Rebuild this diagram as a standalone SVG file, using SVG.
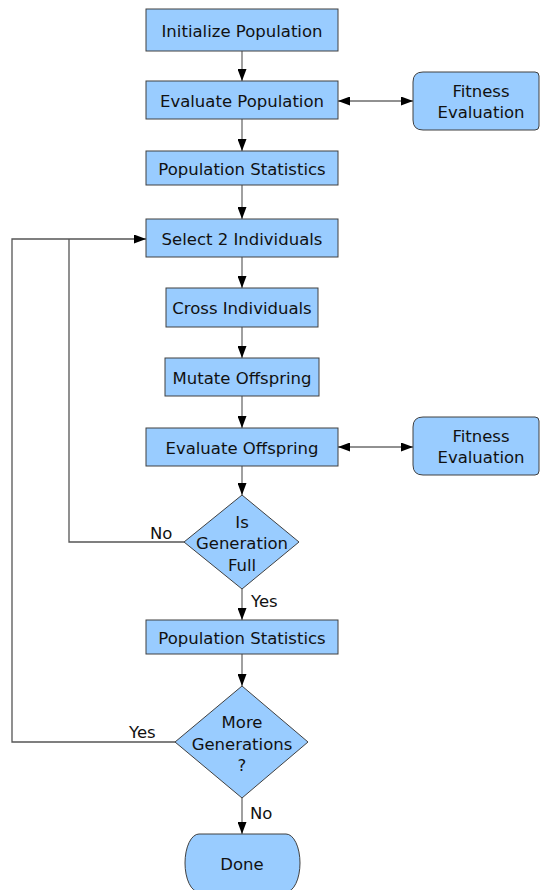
<svg xmlns="http://www.w3.org/2000/svg" width="540" height="890" viewBox="0 0 540 890">
  <style>
    .box { fill: #99ccff; stroke: #404040; stroke-width: 1; }
    .lbl { font-family: "DejaVu Sans", "Liberation Sans", sans-serif; font-size: 16.5px; fill: #111; text-anchor: middle; }
    .tag { font-family: "DejaVu Sans", "Liberation Sans", sans-serif; font-size: 16.5px; fill: #111; }
    .flow { fill: none; stroke: #808080; stroke-width: 1.5; }
    .loop { fill: none; stroke: #555; stroke-width: 1.3; }
    .link { fill: none; stroke: #222; stroke-width: 1; }
  </style>
  <defs>
    <marker id="arrow" viewBox="0 0 12 9" refX="12" refY="4.5" markerWidth="12" markerHeight="9" markerUnits="userSpaceOnUse" orient="auto-start-reverse">
      <path d="M0,0 L12,4.5 L0,9 Z" fill="#000"/>
    </marker>
  </defs>

  <rect width="540" height="890" fill="#fff"/>

  <!-- connectors -->
  <g id="connectors">
    <path class="flow" d="M242,51 V81" marker-end="url(#arrow)"/>
    <path class="flow" d="M242,119 V151" marker-end="url(#arrow)"/>
    <path class="flow" d="M242,185 V219" marker-end="url(#arrow)"/>
    <path class="flow" d="M242,257 V288" marker-end="url(#arrow)"/>
    <path class="flow" d="M242,327 V358" marker-end="url(#arrow)"/>
    <path class="flow" d="M242,396 V428" marker-end="url(#arrow)"/>
    <path class="flow" d="M242,466 V495" marker-end="url(#arrow)"/>
    <path class="flow" d="M242,589 V620" marker-end="url(#arrow)"/>
    <path class="flow" d="M242,654 V686" marker-end="url(#arrow)"/>
    <path class="flow" d="M242,798 V834" marker-end="url(#arrow)"/>
    <!-- fitness evaluation links -->
    <path class="link" d="M338,101 H413" marker-start="url(#arrow)" marker-end="url(#arrow)"/>
    <path class="link" d="M338,447 H413" marker-start="url(#arrow)" marker-end="url(#arrow)"/>
    <!-- loop back paths -->
    <path class="loop" d="M184,542 H69 V239"/>
    <path class="loop" d="M175,742 H12 V239 H146" marker-end="url(#arrow)"/>
    <text class="tag" x="150" y="539">No</text>
    <text class="tag" x="251" y="607">Yes</text>
    <text class="tag" x="129" y="738">Yes</text>
    <text class="tag" x="250" y="819">No</text>
  </g>

  <g id="init">
    <rect class="box" x="146" y="9" width="192" height="42"/>
    <text class="lbl" x="242" y="37">Initialize Population</text>
  </g>
  <g id="eval-pop">
    <rect class="box" x="146" y="81" width="192" height="38"/>
    <text class="lbl" x="242" y="107">Evaluate Population</text>
  </g>
  <g id="fitness-1">
    <path class="box" d="M423,72 H535 Q539,72 539,76 V126 Q539,130 535,130 H423 Q413,130 413,120 V82 Q413,72 423,72 Z"/>
    <text class="lbl" x="481" y="97">Fitness</text>
    <text class="lbl" x="481" y="118">Evaluation</text>
  </g>
  <g id="stats-1">
    <rect class="box" x="146" y="151" width="192" height="34"/>
    <text class="lbl" x="242" y="175">Population Statistics</text>
  </g>
  <g id="select">
    <rect class="box" x="146" y="219" width="192" height="38"/>
    <text class="lbl" x="242" y="245">Select 2 Individuals</text>
  </g>
  <g id="cross">
    <rect class="box" x="166" y="288" width="152" height="39"/>
    <text class="lbl" x="242" y="314">Cross Individuals</text>
  </g>
  <g id="mutate">
    <rect class="box" x="165" y="358" width="154" height="38"/>
    <text class="lbl" x="242" y="384">Mutate Offspring</text>
  </g>
  <g id="eval-off">
    <rect class="box" x="146" y="428" width="192" height="38"/>
    <text class="lbl" x="242" y="454">Evaluate Offspring</text>
  </g>
  <g id="fitness-2">
    <path class="box" d="M423,417 H535 Q539,417 539,421 V471 Q539,475 535,475 H423 Q413,475 413,465 V427 Q413,417 423,417 Z"/>
    <text class="lbl" x="481" y="442">Fitness</text>
    <text class="lbl" x="481" y="463">Evaluation</text>
  </g>
  <g id="gen-full">
    <path class="box" d="M242,495 L299,542 L242,589 L184,542 Z"/>
    <text class="lbl" x="242" y="528">Is</text>
    <text class="lbl" x="242" y="549">Generation</text>
    <text class="lbl" x="242" y="571">Full</text>
  </g>
  <g id="stats-2">
    <rect class="box" x="146" y="620" width="192" height="34"/>
    <text class="lbl" x="242" y="644">Population Statistics</text>
  </g>
  <g id="more-gen">
    <path class="box" d="M242,686 L308,742 L242,798 L175,742 Z"/>
    <text class="lbl" x="242" y="728">More</text>
    <text class="lbl" x="242" y="750">Generations</text>
    <text class="lbl" x="242" y="771">?</text>
  </g>
  <g id="done">
    <path class="box" d="M199,834 H286 A14,29 0 0 1 286,892 H199 A14,29 0 0 1 199,834 Z"/>
    <text class="lbl" x="242" y="870">Done</text>
  </g>
</svg>
